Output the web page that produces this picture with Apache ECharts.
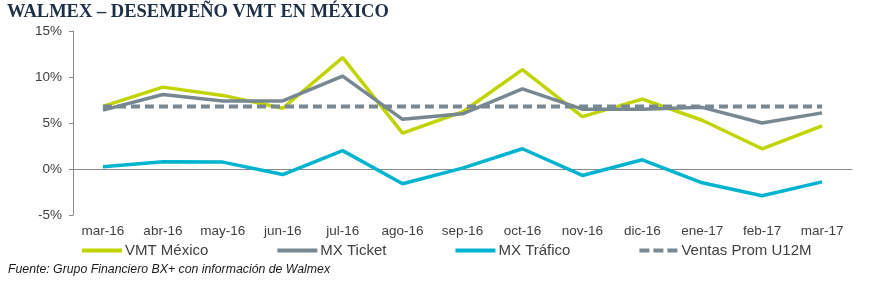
<!DOCTYPE html>
<html>
<head>
<meta charset="utf-8">
<script src="https://cdn.jsdelivr.net/npm/echarts@6/dist/echarts.min.js"></script>
<style>
  html, body { margin: 0; padding: 0; background: #fff; }
  #chart { width: 873px; height: 282px; }
</style>
</head>
<body>
<div id="chart"></div>
<script>
// meses
const months = ['mar-16', 'abr-16', 'may-16', 'jun-16', 'jul-16', 'ago-16', 'sep-16',
  'oct-16', 'nov-16', 'dic-16', 'ene-17', 'feb-17', 'mar-17'];
// valores en %
const vmtMexico = [6.8, 8.9, 8.0, 6.6, 12.1, 3.9, 6.2, 10.8, 5.7, 7.6, 5.3, 2.2, 4.7];
const mxTicket = [6.4, 8.1, 7.4, 7.4, 10.1, 5.4, 6.0, 8.7, 6.5, 6.5, 6.7, 5.0, 6.1];
const mxTrafico = [0.25, 0.8, 0.75, -0.6, 2.0, -1.6, 0.1, 2.2, -0.7, 1.0, -1.5, -2.9, -1.4];
const ventasProm = [6.8, 6.8, 6.8, 6.8, 6.8, 6.8, 6.8, 6.8, 6.8, 6.8, 6.8, 6.8, 6.8];
const yTicks = [-5, 0, 5, 10, 15];

const chart = echarts.init(document.getElementById('chart'));

const axisGray = '#8a8a8a';
const textColor = '#404040';
// iconos de leyenda: linea solida y linea punteada
const solidIcon = 'path://M0,0H40V4H0Z';
const dashIcon = 'path://M0,0H10V4H0Z M14,0H24V4H14Z M28,0H38V4H28Z';

const option = {
  animation: false,
  backgroundColor: '#fff',
  grid: { left: 73, right: 21, top: 31, bottom: 67 },
  graphic: [
    {
      type: 'text', left: 7, top: 3,
      style: {
        text: 'WALMEX – DESEMPEÑO VMT EN MÉXICO',
        font: 'bold 18.5px "Liberation Serif", "DejaVu Serif", serif',
        fill: '#1e2f48'
      }
    },
    {
      type: 'text', left: 8, top: 264,
      style: {
        text: 'Fuente: Grupo Financiero BX+ con información de Walmex',
        font: 'italic 12.3px "Liberation Sans", Arial, sans-serif',
        fill: '#1a1a1a'
      }
    }
  ],
  legend: {
    left: 77, top: 238,
    itemWidth: 40, itemHeight: 4, itemGap: 69,
    textStyle: { fontSize: 15, color: textColor, fontFamily: '"Liberation Sans", Arial, sans-serif', padding: [0, 0, 0, -2] },
    data: [
      { name: 'VMT México', icon: solidIcon },
      { name: 'MX Ticket', icon: solidIcon },
      { name: 'MX Tráfico', icon: solidIcon },
      { name: 'Ventas Prom U12M', icon: dashIcon }
    ]
  },
  xAxis: [
    {
      type: 'category', data: months, boundaryGap: true,
      axisLine: { onZero: true, lineStyle: { color: axisGray, width: 1 } },
      axisTick: { inside: true, length: 4, lineStyle: { color: axisGray } },
      axisLabel: { show: false },
      splitLine: { show: false }
    },
    {
      type: 'category', data: months, boundaryGap: true, position: 'bottom',
      axisLine: { show: false, onZero: false },
      axisTick: { show: false },
      axisLabel: { color: textColor, fontSize: 13.5, margin: 9, fontFamily: '"Liberation Sans", Arial, sans-serif' },
      splitLine: { show: false }
    }
  ],
  yAxis: {
    type: 'value', min: yTicks[0], max: yTicks[yTicks.length - 1], interval: 5,
    axisLine: { show: true, lineStyle: { color: axisGray, width: 1 } },
    axisTick: { show: true, length: 4, lineStyle: { color: axisGray } },
    axisLabel: { color: textColor, fontSize: 13.5, margin: 11, formatter: '{value}%', fontFamily: '"Liberation Sans", Arial, sans-serif' },
    splitLine: { show: false }
  },
  series: [
    {
      name: 'VMT México', type: 'line', data: vmtMexico, symbol: 'none',
      itemStyle: { color: '#c1d400' },
      lineStyle: { color: '#c1d400', width: 3.5 }
    },
    {
      name: 'MX Ticket', type: 'line', data: mxTicket, symbol: 'none',
      itemStyle: { color: '#778892' },
      lineStyle: { color: '#778892', width: 3.5 }
    },
    {
      name: 'MX Tráfico', type: 'line', data: mxTrafico, symbol: 'none',
      itemStyle: { color: '#00b4cf' },
      lineStyle: { color: '#00b4cf', width: 3.5 }
    },
    {
      name: 'Ventas Prom U12M', type: 'line', data: ventasProm, symbol: 'none',
      itemStyle: { color: '#778892' },
      lineStyle: { color: '#778892', width: 4, type: [9, 5] }
    }
  ]
};

chart.setOption(option);
</script>
</body>
</html>
